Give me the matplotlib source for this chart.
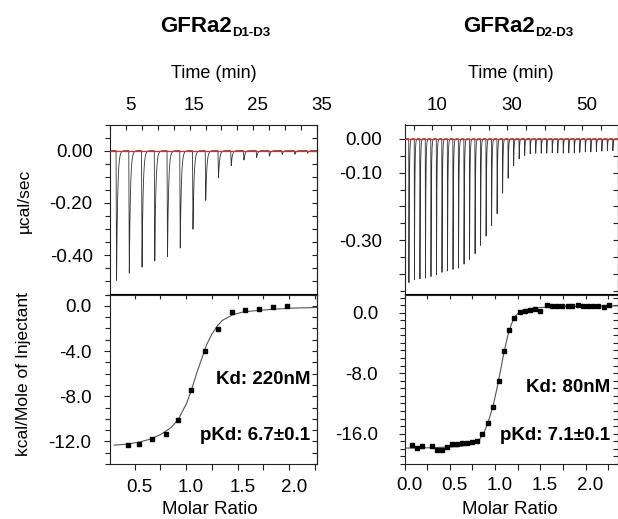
import numpy as np
import matplotlib
matplotlib.use("Agg")
import matplotlib.pyplot as plt
from matplotlib.ticker import MultipleLocator
from matplotlib.transforms import ScaledTranslation
from matplotlib.text import Annotation

plt.rcParams['font.family'] = ['Liberation Sans', 'DejaVu Sans']
plt.rcParams['axes.unicode_minus'] = False

# ---------------- GFRa2 D1-D3 ----------------
d13_inj_time = [3.45, 5.45, 7.45, 9.45, 11.45, 13.45, 15.45, 17.45,
                19.45, 21.45, 23.45, 25.45, 27.45, 29.45, 31.45, 33.45]
d13_peak = [-0.500, -0.478, -0.453, -0.427, -0.408, -0.373, -0.303, -0.194,
            -0.106, -0.058, -0.036, -0.026, -0.021, -0.015, -0.014, -0.010]
d13_ratio = [0.43, 0.54, 0.67, 0.80, 0.92, 1.05, 1.18, 1.31, 1.44, 1.57,
             1.71, 1.84, 1.98]
d13_heat = [-12.30, -12.19, -11.77, -11.33, -10.10, -7.46, -4.04, -2.04,
            -0.53, -0.35, -0.24, -0.12, -0.03]
d13_fit_x = [0.30, 0.42, 0.55, 0.65, 0.75, 0.85, 0.92, 1.00, 1.05, 1.10,
             1.15, 1.20, 1.25, 1.30, 1.35, 1.45, 1.55, 1.65, 1.85, 2.05, 2.27]
d13_fit_y = [-12.33, -12.25, -12.05, -11.80, -11.40, -10.80, -10.10, -8.70,
             -7.50, -6.00, -4.70, -3.40, -2.50, -1.80, -1.30, -0.80, -0.55,
             -0.45, -0.30, -0.20, -0.15]

# ---------------- GFRa2 D2-D3 ----------------
d23_inj_time = [3.73, 5.20, 6.67, 8.14, 9.61, 11.08, 12.55, 14.02, 15.49,
                16.96, 18.43, 19.90, 21.37, 22.84, 24.31, 25.78, 27.25,
                28.72, 30.19, 31.66, 33.13, 34.60, 36.07, 37.54, 39.01,
                40.48, 41.95, 43.42, 44.89, 46.36, 47.83, 49.30, 50.77,
                52.24, 53.71, 55.18, 56.65, 58.12]
d23_peak = [-0.426, -0.420, -0.420, -0.420, -0.418, -0.415, -0.410, -0.402,
            -0.392, -0.383, -0.372, -0.360, -0.345, -0.322, -0.296, -0.265,
            -0.230, -0.165, -0.118, -0.080, -0.060, -0.050, -0.045, -0.044,
            -0.044, -0.044, -0.043, -0.043, -0.043, -0.042, -0.042, -0.041,
            -0.040, -0.040, -0.039, -0.038, -0.037, -0.036]
d23_ratio = [0.08, 0.14, 0.19, 0.30, 0.36, 0.41, 0.47, 0.52, 0.58, 0.63,
             0.69, 0.74, 0.80, 0.86, 0.92, 0.98, 1.04, 1.10, 1.15, 1.21,
             1.27, 1.33, 1.39, 1.44, 1.50, 1.57, 1.63, 1.68, 1.74, 1.80,
             1.85, 1.91, 1.97, 2.03, 2.08, 2.14, 2.20, 2.26]
d23_heat = [-17.55, -17.94, -17.64, -17.68, -18.12, -18.16, -17.73, -17.42,
            -17.34, -17.29, -17.21, -17.12, -16.99, -15.98, -14.64, -12.46,
            -9.00, -5.08, -2.35, -0.69, 0.05, 0.26, 0.35, 0.52, 0.26, 0.96,
            0.87, 0.83, 0.83, 0.91, 0.83, 1.04, 0.91, 0.91, 0.91, 0.91,
            0.78, 1.00]
d23_fit_x = [0.00, 0.30, 0.60, 0.75, 0.82, 0.88, 0.93, 0.98, 1.02, 1.06,
             1.10, 1.14, 1.18, 1.22, 1.27, 1.33, 1.40, 1.50, 1.70, 2.00, 2.35]
d23_fit_y = [-17.90, -17.85, -17.70, -17.40, -16.90, -15.80, -14.20, -12.20,
             -10.00, -7.60, -5.10, -3.00, -1.50, -0.50, 0.10, 0.40, 0.55,
             0.68, 0.80, 0.87, 0.90]

W, H = 618, 519
fig = plt.figure(figsize=(W / 100, H / 100), dpi=100)


def box(x0, x1, y0, y1):
    return [x0 / W, 1 - y1 / H, (x1 - x0) / W, (y1 - y0) / H]


def ftext(x, y, s, **kw):
    return fig.text(x / W, 1 - y / H, s, **kw)


def thermogram(t, times, peaks, rise, tau):
    y = np.zeros_like(t)
    for t0, h in zip(times, peaks):
        dt = t - t0
        up = (dt >= 0) & (dt < rise)
        y[up] += h * dt[up] / rise
        dn = dt >= rise
        y[dn] += h * np.exp(-(dt[dn] - rise) / tau)
    return y


def style(ax, top_panel, xmaj, xmin, yticks, ylabels, ymin, xpad, ypad):
    for s in ax.spines.values():
        s.set_linewidth(0.8)
        s.set_color('#222222')
    ax.set_yticks(yticks, labels=ylabels)
    ax.yaxis.set_minor_locator(MultipleLocator(ymin))
    ax.tick_params(axis='y', which='both', direction='out', left=True,
                   right=False, labelsize=13.5, pad=ypad, color='#222222')
    ax.tick_params(axis='y', which='major', length=4, width=0.8)
    ax.tick_params(axis='y', which='minor', length=3.5, width=0.8)
    sy = ax.secondary_yaxis('right')
    sy.set_yticks(yticks)
    sy.yaxis.set_minor_locator(MultipleLocator(ymin))
    sy.tick_params(which='both', direction='in', labelright=False,
                   length=3.5, width=0.8, color='#222222')
    sy.spines['right'].set_linewidth(0.8)
    ax.xaxis.set_minor_locator(MultipleLocator(xmin))
    if top_panel:
        ax.set_xticks(xmaj[0])
        ax.xaxis.tick_top()
        ax.tick_params(axis='x', which='both', direction='in', length=3.5,
                       width=0.8, labelsize=13.5, pad=xpad, color='#222222')
    else:
        ax.set_xticks(xmaj[0], labels=xmaj[1])
        ax.tick_params(axis='x', which='both', direction='out', length=4,
                       width=0.8, labelsize=13.5, pad=xpad, color='#222222')
        sx = ax.secondary_xaxis('top')
        sx.set_xticks(xmaj[0])
        sx.xaxis.set_minor_locator(MultipleLocator(xmin))
        sx.tick_params(which='both', direction='in', labeltop=False,
                       length=3.5, width=0.8, color='#222222')
    # tick labels in the original sit a few pixels right of their ticks
    shift = ScaledTranslation(4.5 / 100, 0, fig.dpi_scale_trans)
    for tk in ax.xaxis.get_major_ticks():
        tk.label1.set_transform(tk.label1.get_transform() + shift)
        tk.label2.set_transform(tk.label2.get_transform() + shift)


# ---- top left: raw thermogram ----
ax = fig.add_axes(box(110, 317, 124.5, 294.5))
t = np.linspace(2.5, 35, 6000)
ax.plot(t, thermogram(t, d13_inj_time, d13_peak, 0.08, 0.17),
        color='#333333', lw=0.6)
ax.axhline(0, color='#e02a2a', lw=0.9, zorder=3)
ax.set_xlim(2.5, 35)
ax.set_ylim(-0.55, 0.10)
style(ax, True, ([5, 15, 25, 35], None), 2.5,
      [0.0, -0.2, -0.4], ['0.00', '-0.20', '-0.40'], 0.05, 7.5, 8.5)

# ---- bottom left: integrated heats ----
ax = fig.add_axes(box(110, 317, 294.5, 464))
ax.plot(d13_fit_x, d13_fit_y, color='#555555', lw=0.8)
ax.plot(d13_ratio, d13_heat, 's', color='black', ms=3.4)
ax.set_xlim(0.26, 2.27)
ax.set_ylim(-14, 1)
style(ax, False, ([0.5, 1.0, 1.5, 2.0], ['0.5', '1.0', '1.5', '2.0']),
      0.25, [0, -4, -8, -12], ['0.0', '-4.0', '-8.0', '-12.0'], 1, 6.5, 9.5)
ftext(310, 380, 'Kd: 220nM', ha='right', va='center', fontsize=13.5,
      fontweight='bold')
ftext(310, 436, 'pKd: 6.7\u00b10.1', ha='right', va='center', fontsize=13.5,
      fontweight='bold')

# ---- top right: raw thermogram ----
ax = fig.add_axes(box(404.5, 617.5, 124.5, 294.5))
t = np.linspace(2.6, 59.4, 9000)
ax.plot(t, thermogram(t, d23_inj_time, d23_peak, 0.05, 0.11),
        color='#333333', lw=0.6)
ax.axhline(0, color='#e02a2a', lw=0.9, zorder=3)
ax.set_xlim(2.6, 59.4)
ax.set_ylim(-0.46, 0.042)
style(ax, True, ([10, 30, 50], None), 5,
      [0.0, -0.1, -0.2, -0.3, -0.4], ['0.00', '-0.10', '', '-0.30', ''],
      0.05, 7.5, 12)

# ---- bottom right: integrated heats ----
ax = fig.add_axes(box(404.5, 617.5, 294.5, 464))
ax.plot(d23_fit_x, d23_fit_y, color='#555555', lw=0.8)
ax.plot(d23_ratio, d23_heat, 's', color='black', ms=2.9)
ax.set_xlim(0.0, 2.35)
ax.set_ylim(-20, 2.4)
style(ax, False, ([0.0, 0.5, 1.0, 1.5, 2.0],
                  ['0.0', '0.5', '1.0', '1.5', '2.0']),
      0.25, [0, -8, -16], ['0.0', '-8.0', '-16.0'], 1, 5.5, 15)
ftext(610, 388, 'Kd: 80nM', ha='right', va='center', fontsize=13.5,
      fontweight='bold')
ftext(610, 436, 'pKd: 7.1\u00b10.1', ha='right', va='center', fontsize=13.5,
      fontweight='bold')

# ---- titles and axis labels ----
for x0, sub in [(160, 'D1-D3'), (463, 'D2-D3')]:
    main = ftext(x0, 31.7, 'GFRa2', ha='left', va='baseline', fontsize=16,
                 fontweight='bold')
    fig.add_artist(Annotation(sub, xy=(1, 0), xycoords=main,
                              xytext=(0.5, -1.7), textcoords='offset points',
                              ha='left', va='bottom', fontsize=9.5,
                              fontweight='bold'))

ftext(214, 73, 'Time (min)', ha='center', va='center', fontsize=13)
ftext(511, 73, 'Time (min)', ha='center', va='center', fontsize=13)
ftext(210, 510, 'Molar Ratio', ha='center', va='center', fontsize=13.5)
ftext(510, 510, 'Molar Ratio', ha='center', va='center', fontsize=13.5)
ftext(24, 201, '\u00b5cal/sec', ha='center', va='center', fontsize=12.5,
      rotation=90)
ftext(24, 374, 'kcal/Mole of Injectant', ha='center', va='center',
      fontsize=12.5, rotation=90)

fig.savefig('out.png', dpi=100)
